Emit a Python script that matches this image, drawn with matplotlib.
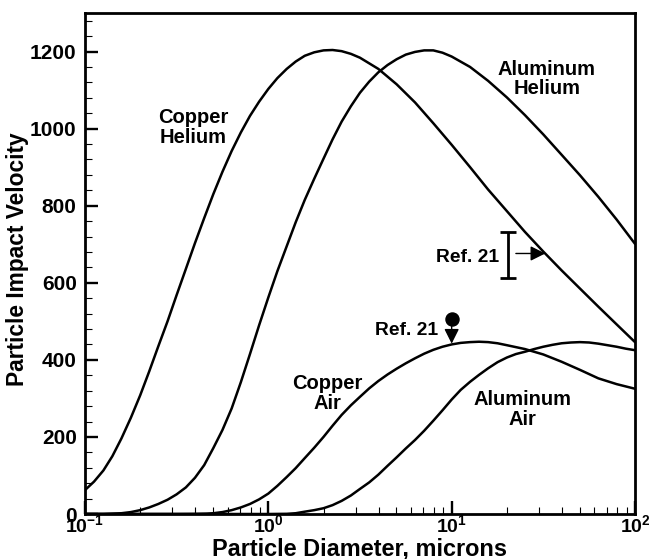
import matplotlib
matplotlib.use('Agg')
import matplotlib.pyplot as plt
from matplotlib.ticker import FixedLocator, NullFormatter

plt.rcParams['font.family'] = ['Liberation Sans', 'DejaVu Sans']
plt.rcParams['font.weight'] = 'bold'
plt.rcParams['mathtext.fontset'] = 'custom'
plt.rcParams['mathtext.rm'] = 'Liberation Sans:bold'
plt.rcParams['mathtext.bf'] = 'Liberation Sans:bold'
plt.rcParams['mathtext.it'] = 'Liberation Sans:bold'

# ---------------- data ----------------
copper_helium_x = [0.1, 0.112, 0.126, 0.141, 0.158, 0.178, 0.2, 0.224, 0.251, 0.282,
                   0.316, 0.355, 0.398, 0.447, 0.501, 0.562, 0.631, 0.708, 0.794, 0.891,
                   1.0, 1.12, 1.26, 1.41, 1.58, 1.78, 2.0, 2.24, 2.51, 2.82,
                   3.16, 3.98, 5.01, 6.31, 7.94, 10, 12.6, 15.8, 20.0, 25.1,
                   31.6, 39.8, 50.1, 63.1, 79.4, 100]
copper_helium_v = [62, 84, 113, 150, 196, 250, 308, 370, 435, 500,
                   568, 636, 703, 768, 830, 888, 942, 990, 1033, 1070,
                   1103, 1131, 1155, 1174, 1189, 1198, 1203, 1204, 1201, 1194,
                   1184, 1155, 1115, 1068, 1014, 958, 900, 842, 786, 732,
                   681, 632, 585, 538, 492, 446]

aluminum_helium_x = [0.1, 0.126, 0.141, 0.158, 0.178, 0.2, 0.224, 0.251, 0.282, 0.316,
                     0.355, 0.398, 0.447, 0.501, 0.562, 0.631, 0.708, 0.794, 0.891, 1.0,
                     1.12, 1.26, 1.41, 1.58, 1.78, 2.0, 2.24, 2.51, 2.82, 3.16,
                     3.55, 3.98, 4.47, 5.01, 5.62, 6.31, 7.08, 7.94, 8.91, 10,
                     12.6, 15.8, 20.0, 25.1, 31.6, 39.8, 50.1, 63.1, 79.4, 100]
aluminum_helium_v = [0, 0, 1, 2, 5, 10, 17, 26, 37, 51,
                     69, 94, 127, 171, 218, 274, 342, 415, 490, 562,
                     630, 695, 757, 815, 870, 922, 972, 1018, 1058, 1093,
                     1122, 1146, 1165, 1180, 1192, 1199, 1203, 1203, 1197, 1187,
                     1160, 1124, 1081, 1035, 985, 932, 879, 823, 764, 701]

copper_air_x = [0.1, 0.316, 0.398, 0.461, 0.501, 0.562, 0.631, 0.708, 0.794, 0.891,
                1.0, 1.12, 1.26, 1.41, 1.58, 1.78, 2.0, 2.24, 2.51, 2.82,
                3.16, 3.55, 3.98, 4.47, 5.01, 5.62, 6.31, 7.08, 7.94, 8.91,
                10, 11.2, 12.6, 14.1, 15.8, 17.8, 20.0, 25.1, 31.6, 39.8,
                50.1, 63.1, 79.4, 100]
copper_air_v = [0, 0, 0.3, 1, 2, 5, 10, 17, 26, 38,
                53, 73, 96, 119, 145, 172, 200, 229, 257, 282,
                304, 326, 345, 362, 377, 391, 404, 416, 426, 434,
                440, 444, 446, 447, 446, 443, 438, 428, 414, 395,
                374, 352, 337, 325]

aluminum_air_x = [0.1, 1.0, 1.26, 1.41, 1.58, 1.78, 2.0, 2.24, 2.51, 2.82,
                  3.16, 3.55, 3.98, 4.47, 5.01, 5.62, 6.31, 7.08, 7.94, 8.91,
                  10, 11.2, 12.6, 14.1, 15.8, 17.8, 20.0, 22.4, 25.1, 28.2,
                  31.6, 35.5, 39.8, 44.7, 50.1, 56.2, 63.1, 70.8, 79.4, 89.1, 100]
aluminum_air_v = [0, 0, 0.5, 2, 6, 10, 15, 23, 34, 48,
                  65, 82, 102, 125, 147, 170, 192, 216, 242, 269,
                  297, 322, 343, 361, 378, 394, 406, 415, 421, 428,
                  434, 439, 443, 445, 446, 445, 442, 438, 434, 429, 425]

# Ref. 21 experimental data
ref_bar_x = 20.4
ref_bar_low = 612
ref_bar_high = 731
ref_arrow_y = 676
ref_arrow_from = 22.4
ref_arrow_to = 32.4

ref_dot_x = 10.0
ref_dot_v = 507
ref_dot_arrow_tip = 442

curve_labels = ['Copper\nHelium', 'Aluminum\nHelium', 'Copper\nAir', 'Aluminum\nAir']
curve_label_x = [0.388, 33.1, 2.09, 24.2]
curve_label_y = [1002, 1129, 313, 272]

x_major = [0.1, 1, 10, 100]
x_tick_labels = [r'$\mathbf{10^{-1}}$', r'$\mathbf{10^{0}}$', r'$\mathbf{10^{1}}$', r'$\mathbf{10^{2}}$']
y_major = [0, 200, 400, 600, 800, 1000, 1200]
y_tick_labels = ['0', '200', '400', '600', '800', '1000', '1200']

# ---------------- figure ----------------
fig = plt.figure(figsize=(6.5, 5.59), dpi=100)
ax = fig.add_axes([85 / 650, 1 - 514 / 559, 550 / 650, 501 / 559])

for xs, vs in [(copper_helium_x, copper_helium_v),
               (aluminum_helium_x, aluminum_helium_v),
               (copper_air_x, copper_air_v),
               (aluminum_air_x, aluminum_air_v)]:
    ax.plot(xs, vs, color='black', lw=1.8, solid_joinstyle='round',
            solid_capstyle='round')

ax.set_xscale('log')
ax.set_xlim(0.1, 100)
ax.set_ylim(0, 1300)

ax.xaxis.set_major_locator(FixedLocator(x_major))
ax.set_xticklabels(x_tick_labels)
x_minor = [k * 10.0 ** e for e in (-1, 0, 1) for k in range(2, 10)]
ax.xaxis.set_minor_locator(FixedLocator(x_minor))
ax.xaxis.set_minor_formatter(NullFormatter())

ax.set_yticks(y_major)
ax.set_yticklabels(y_tick_labels)
ax.yaxis.set_minor_locator(FixedLocator(list(range(40, 1300, 40))))

ax.tick_params(which='both', direction='in', top=False, right=False, colors='black')
ax.tick_params(which='major', length=9.5, width=1.7)
ax.tick_params(which='minor', length=5, width=0.8)
ax.tick_params(axis='y', which='major', labelsize=15, pad=6.0)
ax.tick_params(axis='x', which='major', labelsize=14, pad=0.5)
for lab in ax.get_xticklabels() + ax.get_yticklabels():
    lab.set_fontweight('bold')

for sp in ax.spines.values():
    sp.set_linewidth(2.0)

ax.set_xlabel('Particle Diameter, microns', fontsize=16.9, fontweight='bold')
ax.set_ylabel('Particle Impact Velocity', fontsize=16.4, fontweight='bold')
ax.xaxis.set_label_coords(0.5, -0.047)
ax.yaxis.set_label_coords(-0.102, 0.509)

for txt, tx, ty in zip(curve_labels, curve_label_x, curve_label_y):
    ax.text(tx, ty, txt, ha='center', va='center', fontsize=14.5,
            fontweight='bold', linespacing=1.05)

# Ref. 21 error bar with arrow
ax.errorbar([ref_bar_x], [(ref_bar_low + ref_bar_high) / 2],
            yerr=[[(ref_bar_high - ref_bar_low) / 2]], fmt='none',
            ecolor='black', elinewidth=2.0, capsize=5.5, capthick=2.0)
ax.annotate('', xy=(ref_arrow_to, ref_arrow_y), xytext=(ref_arrow_from, ref_arrow_y),
            arrowprops=dict(arrowstyle='-|>,head_length=0.6,head_width=0.3',
                            mutation_scale=15, lw=1.0, color='black',
                            shrinkA=0, shrinkB=0))
ax.text(18.2, 666, 'Ref. 21', ha='right', va='center', fontsize=13.9, fontweight='bold')

# Ref. 21 point with down arrow
ax.plot([ref_dot_x], [ref_dot_v], 'o', color='black', ms=9.4)
ax.annotate('', xy=(ref_dot_x, ref_dot_arrow_tip), xytext=(ref_dot_x, ref_dot_v - 5),
            arrowprops=dict(arrowstyle='-|>,head_length=0.6,head_width=0.3',
                            mutation_scale=15, lw=1.0, color='black',
                            shrinkA=0, shrinkB=0))
ax.text(8.46, 476, 'Ref. 21', ha='right', va='center', fontsize=13.9, fontweight='bold')

fig.savefig('out.png', dpi=100)
